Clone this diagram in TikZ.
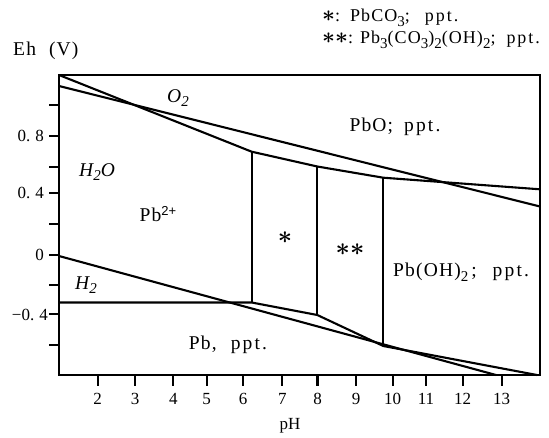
\documentclass[tikz,border=0pt]{standalone}
\usepackage{fontspec}
\setmainfont{Liberation Serif}[LetterSpace=6]
\newfontfamily\supfont{Liberation Sans}
\newcommand{\sub}[1]{\raisebox{-4.5pt}{\fontsize{15}{15}\selectfont #1}}
\newcommand{\ppt}{{\addfontfeature{LetterSpace=11}ppt.}}
\newcommand{\bast}{{\boldmath$\ast$}}
\newcommand{\hast}{\smash{\scalebox{1.3}{\boldmath$\ast$}}}
\begin{document}
\begin{tikzpicture}[x=1pt,y=-1pt,
  frame/.style={line width=2.6pt},
  bound/.style={line width=2.1pt, line join=round},
  tickmark/.style={line width=2.1pt},
  lbl/.style={font=\fontsize{19.5}{22}\selectfont, inner sep=0pt},
  hlbl/.style={font=\fontsize{18}{20}\selectfont, inner sep=0pt},
  tlbl/.style={font=\fontsize{17}{20}\selectfont\addfontfeature{LetterSpace=0}, inner sep=0pt},
  ilbl/.style={font=\fontsize{19.5}{22}\selectfont\itshape, inner sep=0pt},
  slbl/.style={font=\fontsize{29}{29}\selectfont, inner sep=0pt}]
\useasboundingbox (0,0) rectangle (549,437);
% frame
\coordinate (TL) at (59,75);
\coordinate (BR) at (540,375);
\draw[frame] (TL) rectangle (BR);
% axis ticks
\foreach \yy in {105,136,166.7,193.3,224.3,255,285,314.3,345}
  \draw[tickmark] (49,\yy) -- (59,\yy);
\foreach \xx/\t in {97.7/2,135/3,173.3/4,206.7/5,243/6,282.3/7,317.5/8,356/9,392.7/10,426/11,462.7/12,501.7/13}{
  \draw[tickmark] (\xx,375) -- (\xx,386);
  \node[tlbl] (xt\t) at (\xx,399) {\t};
}
\node[tlbl,anchor=east] (y08) at (44,136) {0.\kern5pt 8};
\node[tlbl,anchor=east] (y04) at (44,193.3) {0.\kern5pt 4};
\node[tlbl,anchor=east] (y00) at (44,255) {0};
\node[tlbl,anchor=east] (ym04) at (48,315) {−0.\kern5pt 4};
\node[tlbl] (xlab) at (290,426) {pH};
\node[lbl,anchor=west] (ylab) at (13,51) {Eh\hspace{13pt}(V)};
% header
\node[hlbl,anchor=west] (h1) at (322,18) {\hast:\hspace{10pt}PbCO\sub{3};\hspace{15pt}\ppt};
\node[hlbl,anchor=west] (h2) at (322,40) {\hast\hast:\hspace{7pt}Pb\sub{3}(CO\sub{3})\sub{2}(OH)\sub{2};\hspace{11pt}\ppt};
% coordinates of boundaries
\coordinate (a0) at (59,75);
\coordinate (a1) at (251.7,151.7);
\coordinate (a2) at (317.3,166.5);
\coordinate (a3) at (383.3,177.7);
\coordinate (a4) at (540,189.3);
\coordinate (o0) at (59,86);
\coordinate (o1) at (540,206.5);
\coordinate (p0) at (59,302.5);
\coordinate (b1) at (251.7,302.5);
\coordinate (b2) at (317.3,315);
\coordinate (b3) at (383.3,346);
\coordinate (p4) at (537,375);
\coordinate (w0) at (59,256);
\coordinate (w1) at (496,375);
% lines
\draw[bound] (a0) -- (a1) -- (a2) -- (a3) -- (a4);
\draw[bound] (o0) -- (o1);
\draw[bound] (a1) -- (b1);
\draw[bound] (a2) -- (b2);
\draw[bound] (a3) -- (b3);
\draw[bound] (p0) -- (b1) -- (b2) -- (b3) -- (p4);
\draw[bound] (w0) -- (w1);
% region labels
\node[ilbl] (lO2) at (178,98) {O\sub{2}};
\node[ilbl] (lH2O) at (97,172) {H\sub{2}O};
\node[ilbl] (lH2) at (86,285) {H\sub{2}};
\node[lbl] (lPb2) at (158,214) {Pb\raisebox{6.5pt}{\supfont\fontsize{13}{13}\selectfont 2+}};
\node[lbl] (lPbO) at (395,127) {PbO;\hspace{11pt}\ppt};
\node[slbl] (lstar) at (285,238) {\bast};
\node[slbl] (lstar2) at (350,250) {\bast\bast};
\node[lbl,anchor=west] (lPbOH) at (393,272) {Pb(OH)\sub{2}\kern3pt;\hspace{16pt}\ppt};
\node[lbl] (lPb) at (228,345) {Pb,\hspace{14pt}\ppt};
\end{tikzpicture}
\end{document}
